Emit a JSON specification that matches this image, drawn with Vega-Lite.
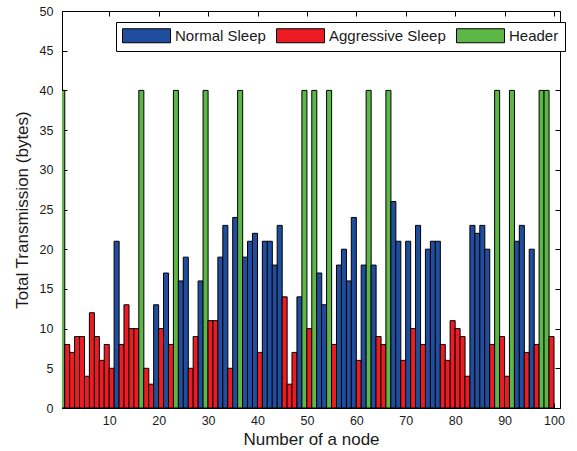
{
  "$schema": "https://vega.github.io/schema/vega-lite/v6.json",
  "width": 498,
  "height": 397,
  "autosize": "none",
  "padding": {"left": 62, "top": 11, "right": 17, "bottom": 43},
  "background": "white",
  "config": {
    "font": "Liberation Sans",
    "view": {"stroke": "black", "strokeWidth": 1},
    "axis": {
      "grid": false,
      "domainColor": "black",
      "tickColor": "black",
      "labelColor": "#1a1a1a",
      "titleColor": "#1a1a1a",
      "labelFont": "Liberation Sans",
      "titleFont": "Liberation Sans",
      "labelFontSize": 12.5,
      "titleFontSize": 17,
      "titleFontWeight": "normal",
      "tickSize": -5
    },
    "legend": {
      "labelFont": "Liberation Sans"
    }
  },
  "data": {
    "values": [
      {"node": 1, "value": 40, "type": "Header"},
      {"node": 2, "value": 8, "type": "Aggressive Sleep"},
      {"node": 3, "value": 7, "type": "Aggressive Sleep"},
      {"node": 4, "value": 9, "type": "Aggressive Sleep"},
      {"node": 5, "value": 9, "type": "Aggressive Sleep"},
      {"node": 6, "value": 4, "type": "Aggressive Sleep"},
      {"node": 7, "value": 12, "type": "Aggressive Sleep"},
      {"node": 8, "value": 9, "type": "Aggressive Sleep"},
      {"node": 9, "value": 6, "type": "Aggressive Sleep"},
      {"node": 10, "value": 8, "type": "Aggressive Sleep"},
      {"node": 11, "value": 5, "type": "Aggressive Sleep"},
      {"node": 12, "value": 21, "type": "Normal Sleep"},
      {"node": 13, "value": 8, "type": "Aggressive Sleep"},
      {"node": 14, "value": 13, "type": "Aggressive Sleep"},
      {"node": 15, "value": 10, "type": "Aggressive Sleep"},
      {"node": 16, "value": 10, "type": "Aggressive Sleep"},
      {"node": 17, "value": 40, "type": "Header"},
      {"node": 18, "value": 5, "type": "Aggressive Sleep"},
      {"node": 19, "value": 3, "type": "Aggressive Sleep"},
      {"node": 20, "value": 13, "type": "Normal Sleep"},
      {"node": 21, "value": 10, "type": "Aggressive Sleep"},
      {"node": 22, "value": 17, "type": "Normal Sleep"},
      {"node": 23, "value": 8, "type": "Aggressive Sleep"},
      {"node": 24, "value": 40, "type": "Header"},
      {"node": 25, "value": 16, "type": "Normal Sleep"},
      {"node": 26, "value": 19, "type": "Normal Sleep"},
      {"node": 27, "value": 5, "type": "Aggressive Sleep"},
      {"node": 28, "value": 9, "type": "Aggressive Sleep"},
      {"node": 29, "value": 16, "type": "Normal Sleep"},
      {"node": 30, "value": 40, "type": "Header"},
      {"node": 31, "value": 11, "type": "Aggressive Sleep"},
      {"node": 32, "value": 11, "type": "Aggressive Sleep"},
      {"node": 33, "value": 19, "type": "Normal Sleep"},
      {"node": 34, "value": 23, "type": "Normal Sleep"},
      {"node": 35, "value": 5, "type": "Aggressive Sleep"},
      {"node": 36, "value": 24, "type": "Normal Sleep"},
      {"node": 37, "value": 40, "type": "Header"},
      {"node": 38, "value": 19, "type": "Normal Sleep"},
      {"node": 39, "value": 21, "type": "Normal Sleep"},
      {"node": 40, "value": 22, "type": "Normal Sleep"},
      {"node": 41, "value": 7, "type": "Aggressive Sleep"},
      {"node": 42, "value": 21, "type": "Normal Sleep"},
      {"node": 43, "value": 21, "type": "Normal Sleep"},
      {"node": 44, "value": 18, "type": "Normal Sleep"},
      {"node": 45, "value": 23, "type": "Normal Sleep"},
      {"node": 46, "value": 14, "type": "Aggressive Sleep"},
      {"node": 47, "value": 3, "type": "Aggressive Sleep"},
      {"node": 48, "value": 7, "type": "Aggressive Sleep"},
      {"node": 49, "value": 14, "type": "Normal Sleep"},
      {"node": 50, "value": 40, "type": "Header"},
      {"node": 51, "value": 10, "type": "Aggressive Sleep"},
      {"node": 52, "value": 40, "type": "Header"},
      {"node": 53, "value": 17, "type": "Normal Sleep"},
      {"node": 54, "value": 13, "type": "Normal Sleep"},
      {"node": 55, "value": 40, "type": "Header"},
      {"node": 56, "value": 8, "type": "Aggressive Sleep"},
      {"node": 57, "value": 18, "type": "Normal Sleep"},
      {"node": 58, "value": 20, "type": "Normal Sleep"},
      {"node": 59, "value": 16, "type": "Normal Sleep"},
      {"node": 60, "value": 24, "type": "Normal Sleep"},
      {"node": 61, "value": 6, "type": "Aggressive Sleep"},
      {"node": 62, "value": 18, "type": "Normal Sleep"},
      {"node": 63, "value": 40, "type": "Header"},
      {"node": 64, "value": 18, "type": "Normal Sleep"},
      {"node": 65, "value": 9, "type": "Aggressive Sleep"},
      {"node": 66, "value": 8, "type": "Aggressive Sleep"},
      {"node": 67, "value": 40, "type": "Header"},
      {"node": 68, "value": 26, "type": "Normal Sleep"},
      {"node": 69, "value": 21, "type": "Normal Sleep"},
      {"node": 70, "value": 6, "type": "Aggressive Sleep"},
      {"node": 71, "value": 21, "type": "Normal Sleep"},
      {"node": 72, "value": 10, "type": "Aggressive Sleep"},
      {"node": 73, "value": 23, "type": "Normal Sleep"},
      {"node": 74, "value": 8, "type": "Aggressive Sleep"},
      {"node": 75, "value": 20, "type": "Normal Sleep"},
      {"node": 76, "value": 21, "type": "Normal Sleep"},
      {"node": 77, "value": 21, "type": "Normal Sleep"},
      {"node": 78, "value": 8, "type": "Aggressive Sleep"},
      {"node": 79, "value": 6, "type": "Aggressive Sleep"},
      {"node": 80, "value": 11, "type": "Aggressive Sleep"},
      {"node": 81, "value": 10, "type": "Aggressive Sleep"},
      {"node": 82, "value": 9, "type": "Aggressive Sleep"},
      {"node": 83, "value": 4, "type": "Aggressive Sleep"},
      {"node": 84, "value": 23, "type": "Normal Sleep"},
      {"node": 85, "value": 22, "type": "Normal Sleep"},
      {"node": 86, "value": 23, "type": "Normal Sleep"},
      {"node": 87, "value": 20, "type": "Normal Sleep"},
      {"node": 88, "value": 8, "type": "Aggressive Sleep"},
      {"node": 89, "value": 40, "type": "Header"},
      {"node": 90, "value": 9, "type": "Aggressive Sleep"},
      {"node": 91, "value": 4, "type": "Aggressive Sleep"},
      {"node": 92, "value": 40, "type": "Header"},
      {"node": 93, "value": 21, "type": "Normal Sleep"},
      {"node": 94, "value": 23, "type": "Normal Sleep"},
      {"node": 95, "value": 7, "type": "Aggressive Sleep"},
      {"node": 96, "value": 20, "type": "Normal Sleep"},
      {"node": 97, "value": 8, "type": "Aggressive Sleep"},
      {"node": 98, "value": 40, "type": "Header"},
      {"node": 99, "value": 40, "type": "Header"},
      {"node": 100, "value": 9, "type": "Aggressive Sleep"}
    ]
  },
  "layer": [
    {
      "mark": {"type": "bar", "width": 5.04, "xOffset": -2.52, "stroke": "black", "strokeWidth": 1, "clip": true},
      "encoding": {
        "x": {
          "field": "node", "type": "quantitative",
          "scale": {"domain": [1.45, 100.2], "nice": false, "zero": false},
          "axis": {"orient": "bottom", "values": [10, 20, 30, 40, 50, 60, 70, 80, 90, 100], "title": "Number of a node", "labelPadding": 11, "titlePadding": 5}
        },
        "y": {
          "field": "value", "type": "quantitative",
          "scale": {"domain": [0, 50], "nice": false},
          "axis": {"orient": "left", "values": [0, 5, 10, 15, 20, 25, 30, 35, 40, 45, 50], "title": "Total Transmission (bytes)", "labelPadding": 14, "titlePadding": 8}
        },
        "color": {
          "field": "type", "type": "nominal",
          "scale": {"domain": ["Normal Sleep", "Aggressive Sleep", "Header"], "range": ["#1f4e9e", "#ed1c24", "#5cb746"]},
          "legend": {
            "title": null,
            "orient": "none",
            "legendX": 54,
            "legendY": 11,
            "direction": "horizontal",
            "strokeColor": "black",
            "fillColor": "white",
            "padding": 6,
            "symbolType": "M-1,-1H5.86V1H-1Z",
            "symbolSize": 196,
            "symbolStrokeColor": "black",
            "symbolStrokeWidth": 1,
            "symbolOpacity": 1,
            "labelFontSize": 15,
            "labelColor": "#1a1a1a",
            "labelOffset": 38,
            "columnPadding": 8
          }
        }
      }
    },
    {
      "mark": {"type": "bar", "width": 5.04, "xOffset": -2.52, "opacity": 0, "clip": true},
      "encoding": {
        "x": {
          "field": "node", "type": "quantitative",
          "axis": {"orient": "top", "values": [10, 20, 30, 40, 50, 60, 70, 80, 90, 100], "labels": false, "title": null, "domain": false}
        },
        "y": {
          "field": "value", "type": "quantitative",
          "axis": {"orient": "right", "values": [0, 5, 10, 15, 20, 25, 30, 35, 40, 45, 50], "labels": false, "title": null, "domain": false}
        }
      }
    }
  ]
}
